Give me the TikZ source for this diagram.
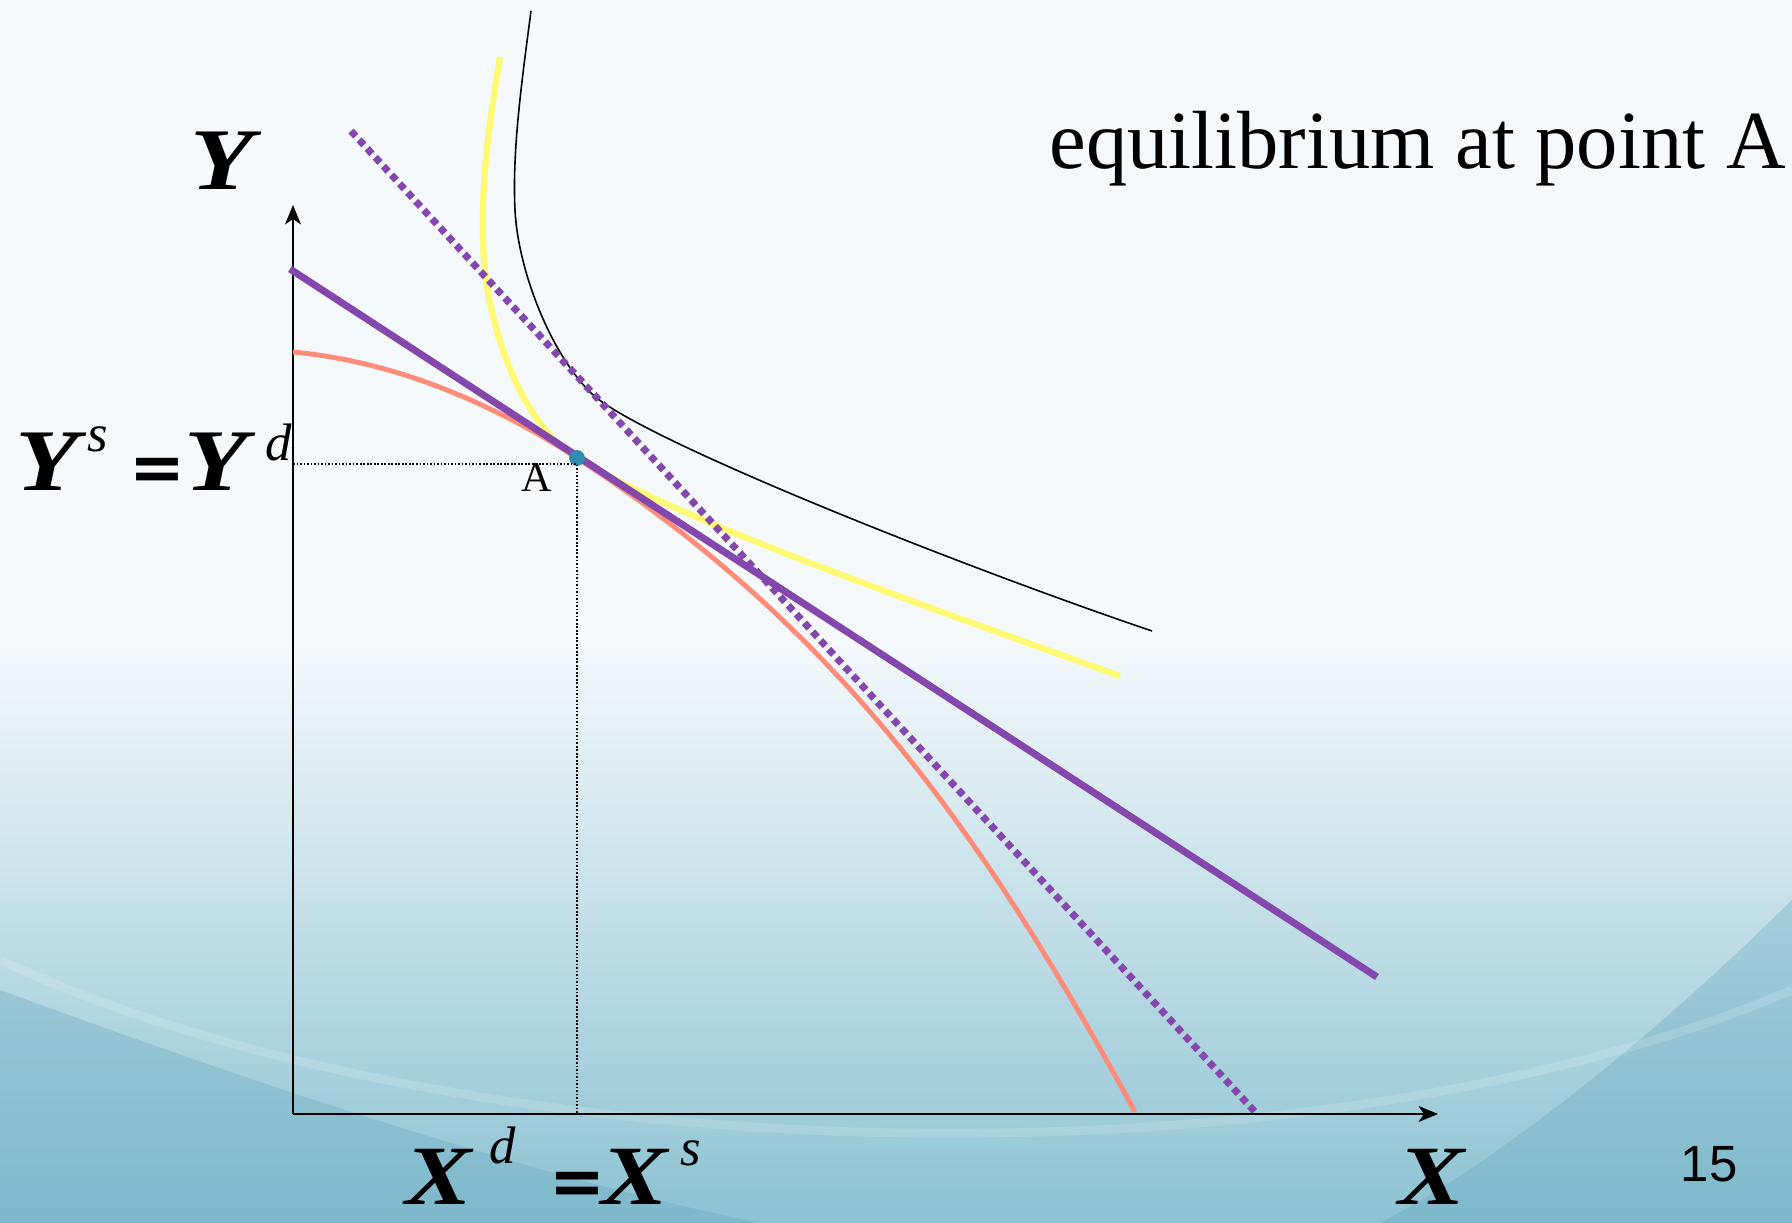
\documentclass[tikz,border=0pt]{standalone}
\usepackage{fontspec}
\setmainfont{Liberation Serif}
\newfontfamily\pagefont{Liberation Sans}
\newfontfamily\eqfont{DejaVu Sans}
\usetikzlibrary{arrows.meta}
\definecolor{bgtop}{HTML}{F5F9FC}
\definecolor{bgmid}{HTML}{DCEDF2}
\definecolor{bgbot}{HTML}{8CC2D2}
\definecolor{bgdeep}{HTML}{65A8C0}
\definecolor{budget}{HTML}{8447AE}
\definecolor{ppf}{HTML}{FF8C78}
\definecolor{indiff}{HTML}{FFFA74}
\definecolor{eqdot}{HTML}{2F8CAD}
\newcommand{\bigvar}[2][50]{\scalebox{1.18}[1]{\fontsize{#1}{#1}\selectfont\bfseries\itshape #2}}
\newcommand{\supvar}[2]{\raisebox{#1}{\fontsize{30}{30}\selectfont\itshape #2}}
\newcommand{\heavyeq}{{\eqfont\fontsize{38}{38}\selectfont\bfseries =}}

\begin{document}
\begin{tikzpicture}[x=0.02cm, y=-0.02cm,
    every node/.style={inner sep=0pt},
    axis/.style={line width=1.1pt, -{Stealth[length=11pt,width=9pt,inset=3pt]}},
    guide/.style={line width=0.7pt, dash pattern=on 1pt off 1pt},
    budgetline/.style={draw=budget, line width=4pt},
    budgetshift/.style={draw=budget, line width=4pt, dash pattern=on 4pt off 2.8pt},
    frontier/.style={draw=ppf, line width=2.8pt},
    utility/.style={draw=indiff, line width=3.6pt},
    highutility/.style={draw=black, line width=0.9pt}]
  % background
  \useasboundingbox (0,0) rectangle (1792,1223);
  \fill[bgtop] (0,0) rectangle (1792,1223);
  \shade[top color=bgtop, middle color=bgmid, bottom color=bgbot] (0,640) rectangle (1792,1223);
  \fill[bgdeep, opacity=0.35] (0,990) .. controls (300,1100) and (550,1180) .. (760,1223) -- (0,1223) -- cycle;
  \fill[bgdeep, opacity=0.35] (1792,900) .. controls (1650,1040) and (1500,1160) .. (1380,1223) -- (1792,1223) -- cycle;
  \draw[white, opacity=0.15, line width=5pt] (0,960) .. controls (450,1170) and (1300,1200) .. (1792,990);

  % axes
  \coordinate (origin) at (293,1114);
  \coordinate (ytip) at (293,205);
  \coordinate (xtip) at (1438,1114);
  \draw[axis] (origin) -- (ytip);
  \draw[axis] (origin) -- (xtip);

  % curves
  \draw[highutility] (531,11) .. controls (522,80) and (512,150) .. (515,210)
    .. controls (518,270) and (550,352) .. (590,392)
    .. controls (632,436) and (960,566) .. (1152,631);
  \draw[utility] (500,57) .. controls (486,140) and (480,200) .. (484,260)
    .. controls (488,320) and (517,421) .. (577,458)
    .. controls (677,520) and (920,604) .. (1120,676);
  \draw[frontier] (293,352) .. controls (380,360) and (477,393) .. (577,458)
    .. controls (827,621) and (975,816) .. (1135,1112);
  \coordinate (bl1) at (290,269);
  \coordinate (bl2) at (1377,977);
  \coordinate (bs1) at (351,131);
  \coordinate (bs2) at (1257,1114);
  \draw[budgetshift] (bs1) -- (bs2);
  \draw[budgetline] (bl1) -- (bl2);

  % equilibrium
  \node[circle, fill=eqdot, minimum size=9pt] (ptA) at (577,458) {};
  \coordinate (ymark) at (293,464);
  \coordinate (xmark) at (577,1114);
  \draw[guide] (ymark) -- (577,464) -- (xmark);
  \node[font=\fontsize{24}{24}\selectfont] (labA) at (537,478) {A};

  % labels
  \node[anchor=base west] (ylab) at (190,190) {\bigvar{Y}};
  \node[anchor=base west] (yeq) at (15,490) {\bigvar{Y}\hspace{5pt}\supvar{22pt}{s}\hspace{12pt}\heavyeq\hspace{0pt}\bigvar{Y}\hspace{10pt}\supvar{17pt}{d}};
  \node[anchor=base west] (xeq) at (405,1204) {\bigvar[48]{X}\hspace{10pt}\supvar{23pt}{d}\hspace{19pt}\heavyeq\hspace{-2pt}\bigvar[48]{X}\hspace{7pt}\supvar{22pt}{s}};
  \node[anchor=base west] (xlab) at (1398,1204) {\bigvar[48]{X}};
  \node[anchor=base west, font=\fontsize{47}{47}\selectfont] (title) at (1049,169) {equilibrium at point A};
  \node[font=\pagefont\fontsize{29}{29}\selectfont] (pagenum) at (1709,1164) {15};
\end{tikzpicture}
\end{document}
